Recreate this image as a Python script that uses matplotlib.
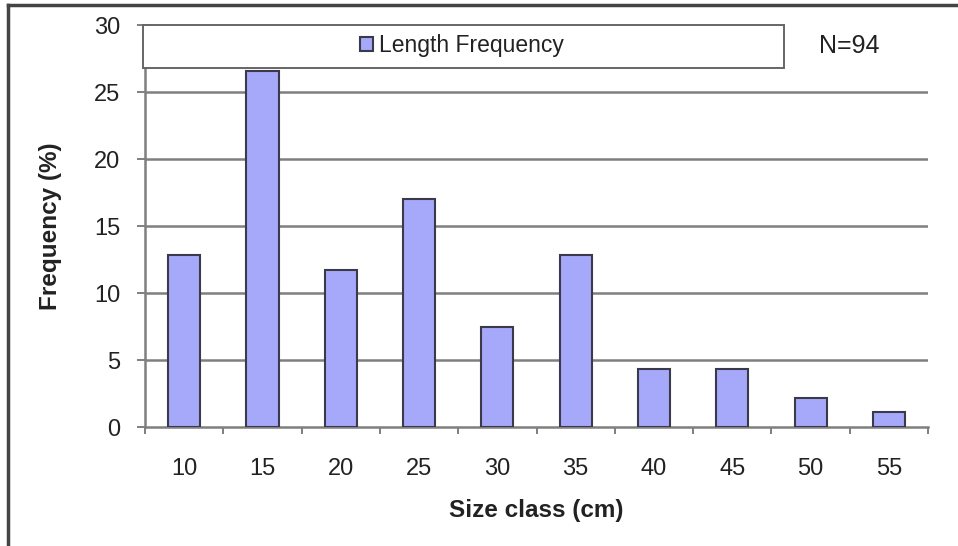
import matplotlib
matplotlib.use('Agg')
import matplotlib.pyplot as plt
from matplotlib.patches import Rectangle
from matplotlib.lines import Line2D

plt.rcParams['font.family'] = ['Liberation Sans', 'DejaVu Sans']

# 数据
size_class = ['10', '15', '20', '25', '30', '35', '40', '45', '50', '55']
frequency = [12.8, 26.6, 11.7, 17.0, 7.5, 12.8, 4.3, 4.3, 2.2, 1.1]
y_ticks = [0, 5, 10, 15, 20, 25, 30]
n_label = 'N=94'

bar_color = '#A6A8FA'
edge_color = '#3A3A4A'
grid_color = '#7F7F7F'

fig = plt.figure(figsize=(9.58, 5.46), dpi=100)
ax = fig.add_axes([0.1514, 0.2179, 0.8173, 0.7363])

x = [i + 0.5 for i in range(len(size_class))]
bars = ax.bar(x, frequency, width=0.41, color=bar_color, edgecolor=edge_color,
              linewidth=1.5, label='Length Frequency', zorder=3)

ax.set_xlim(0, len(size_class))
ax.set_ylim(0, 30)

# 网格线
for yv in y_ticks[1:-1]:
    ax.axhline(yv, color=grid_color, linewidth=1.8, zorder=1)

ax.spines['top'].set_visible(False)
ax.spines['right'].set_visible(False)
for s in ['left', 'bottom']:
    ax.spines[s].set_color(grid_color)
    ax.spines[s].set_linewidth(1.8)

ax.set_yticks(y_ticks)
ax.tick_params(axis='y', direction='out', length=6, width=1.4, color=grid_color,
               labelsize=17, pad=12, labelcolor='#222222')

# x轴刻度：主刻度在分界处，标签在中间
ax.set_xticks(range(len(size_class) + 1))
ax.set_xticklabels([])
ax.set_xticks(x, minor=True)
ax.set_xticklabels(size_class, minor=True)
ax.tick_params(axis='x', which='major', direction='out', length=5, width=1.4, color=grid_color)
ax.tick_params(axis='x', which='minor', length=0, labelsize=17, pad=22, labelcolor='#222222')

ax.set_xlabel('Size class (cm)', fontsize=17.5, fontweight='bold', color='#222222')
ax.xaxis.set_label_coords(0.5, -0.18)
ax.set_ylabel('Frequency (%)', fontsize=17.5, fontweight='bold', color='#222222')
ax.yaxis.set_label_coords(-0.106, 0.5)

# 图例框
box = Rectangle((-0.003, 0.893), 0.819, 0.107, transform=ax.transAxes,
                facecolor='white', edgecolor='#666666', linewidth=1.4, zorder=4,
                clip_on=False)
ax.add_patch(box)
leg = ax.legend(loc='center', bbox_to_anchor=(0.405, 0.948), frameon=False,
                fontsize=16.5, handlelength=0.55, handleheight=0.55, handletextpad=0.3,
                labelcolor='#222222')
leg.set_zorder(5)

ax.text(0.9, 0.948, n_label, transform=ax.transAxes, ha='center', va='center',
        fontsize=18, color='#222222')

# 外框
fig.add_artist(Line2D([8 / 958, 8 / 958], [0, 1 - 5 / 546], transform=fig.transFigure,
                      color='#444444', linewidth=2.5))
fig.add_artist(Line2D([8 / 958, 1], [1 - 5 / 546, 1 - 5 / 546], transform=fig.transFigure,
                      color='#444444', linewidth=2.5))

fig.savefig('out.png', dpi=100)
